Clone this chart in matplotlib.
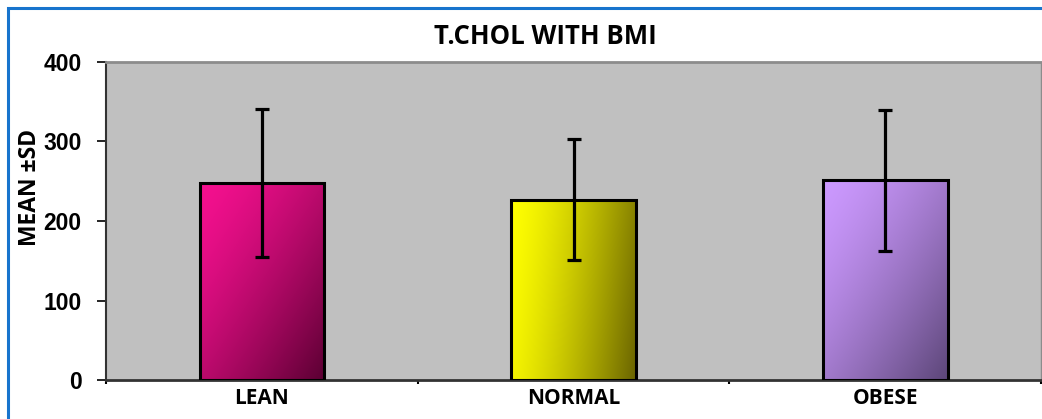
import numpy as np
import matplotlib.pyplot as plt
from matplotlib.colors import to_rgb
from matplotlib.patches import Rectangle

# data
categories = ['LEAN', 'NORMAL', 'OBESE']
means = [248, 227, 251]
sds = [93, 76, 89]

# gradient colours per bar (light -> dark) and direction weight (1 = horizontal)
grad_start = ['#F5108F', '#FFFF00', '#CC99FF']
grad_end = ['#5A0032', '#6A6400', '#5C4678']
grad_horiz = [0.5, 0.85, 0.5]


def gradient_image(c1, c2, horiz, n=200):
    u = np.linspace(0, 1, n)[None, :]
    v = np.linspace(0, 1, n)[:, None]  # 0 at top row
    t = horiz * u + (1 - horiz) * v
    t = (t - t.min()) / (t.max() - t.min())
    t = t ** 1.4
    a = np.array(to_rgb(c1))
    b = np.array(to_rgb(c2))
    return a[None, None, :] * (1 - t[..., None]) + b[None, None, :] * t[..., None]


fig = plt.figure(figsize=(10.42, 4.19), dpi=100)
ax = fig.add_axes([106 / 1042, 1 - 380 / 419, 935 / 1042, 318 / 419])
ax.set_facecolor('#C0C0C0')

x = np.arange(len(categories))
width = 0.4
bars = ax.bar(x, means, width=width, color='none', edgecolor='black',
              linewidth=2.2, zorder=3)

for i, b in enumerate(bars):
    x0, y0 = b.get_x(), b.get_y()
    w, h = b.get_width(), b.get_height()
    img = gradient_image(grad_start[i], grad_end[i], grad_horiz[i])
    im = ax.imshow(img, extent=[x0, x0 + w, y0, y0 + h], aspect='auto',
                   zorder=2, interpolation='bilinear')
    clip = Rectangle((x0, y0), w, h, transform=ax.transData)
    im.set_clip_path(clip)

ax.errorbar(x, means, yerr=sds, fmt='none', ecolor='black', elinewidth=2.3,
            capsize=4.8, capthick=2.3, zorder=4)

ax.set_xlim(-0.5, len(categories) - 0.5)
ax.set_ylim(0, 400)
ax.set_yticks([0, 100, 200, 300, 400])

ax.set_xticks(x)
ax.set_xticklabels(categories, fontfamily='Open Sans', fontweight='bold', fontsize=15)
ax.set_xticks(np.arange(-0.5, len(categories)), minor=True)
ax.tick_params(axis='x', which='major', length=0, pad=6)
ax.tick_params(axis='x', which='minor', length=3, width=1.5, color='black')
ax.tick_params(axis='y', length=6.5, width=1.2, pad=11)
for lab in ax.get_yticklabels():
    lab.set_fontfamily('Liberation Sans')
    lab.set_fontweight('bold')
    lab.set_fontsize(16.5)

ax.spines['left'].set_color('#333333')
ax.spines['left'].set_linewidth(1.5)
ax.spines['bottom'].set_color('#333333')
ax.spines['bottom'].set_linewidth(2)
ax.spines['top'].set_color('#8C8C8C')
ax.spines['top'].set_linewidth(2)
ax.spines['right'].set_color('#8C8C8C')
ax.spines['right'].set_linewidth(1)

fig.text(30 / 1042, 1 - 187 / 419, 'MEAN \u00b1SD', rotation=90, ha='center', va='center',
         fontfamily='Open Sans', fontweight='bold', fontsize=16.5)

fig.text(545 / 1042, 1 - 37 / 419, 'T.CHOL WITH BMI', ha='center', va='center',
         fontfamily='Open Sans', fontweight='bold', fontsize=18.5)

# blue frame around the chart area (cut off at right and bottom)
frame = Rectangle((8 / 1042, -0.05), 1.1, 1 - 8 / 419 + 0.05, transform=fig.transFigure,
                  fill=False, edgecolor='#1874CD', linewidth=2.2)
fig.patches.append(frame)

fig.savefig('out.png', dpi=100)
